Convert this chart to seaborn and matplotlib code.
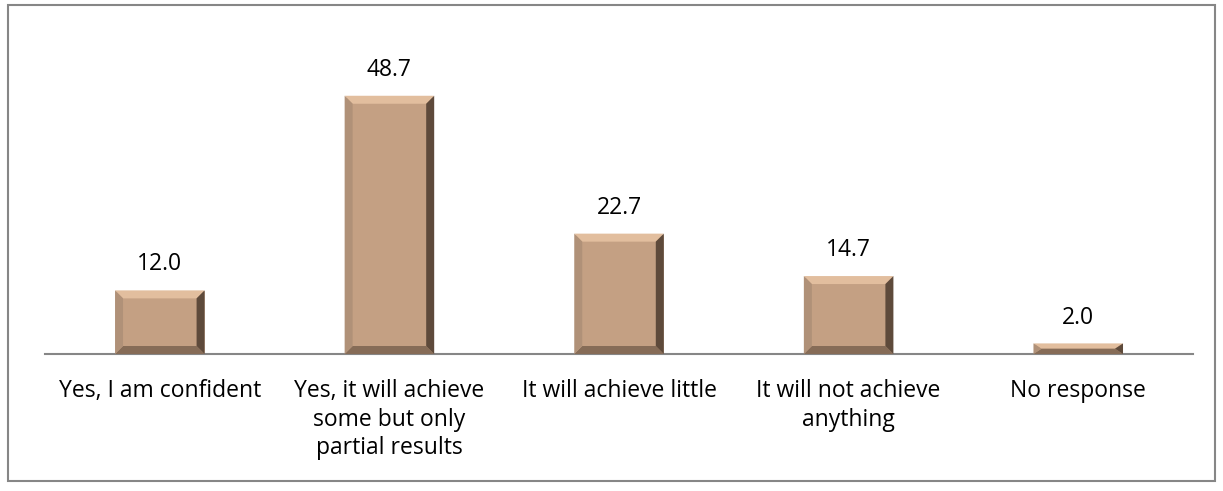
import matplotlib
matplotlib.use('Agg')
import matplotlib.pyplot as plt
from matplotlib.patches import Polygon, Rectangle
import seaborn as sns
import pandas as pd

categories = ['Yes, I am confident', 'Yes, it will achieve\nsome but only\npartial results',
              'It will achieve little', 'It will not achieve\nanything', 'No response']
values = [12.0, 48.7, 22.7, 14.7, 2.0]

df = pd.DataFrame({'category': categories, 'value': values})

sns.set_style('white')
plt.rcParams['font.family'] = ['Open Sans', 'DejaVu Sans']

fig = plt.figure(figsize=(12.23, 4.91), dpi=100)
ax = fig.add_axes([0.0368, 0.279, 0.9387, 0.648])

face = '#C4A083'
sns.barplot(data=df, x='category', y='value', color=face, width=0.39,
            saturation=1, ax=ax)
ax.set_xlim(-0.5, 4.5)
ax.set_ylim(0, 60)

# bevel edges (pixel width converted to data units)
fig.canvas.draw()
p0 = ax.transData.transform((0, 0))
p1 = ax.transData.transform((1, 1))
bw = 8
dx = bw / (p1[0] - p0[0])
dy = bw / (p1[1] - p0[1])
for bar in ax.patches:
    x0 = bar.get_x()
    w = bar.get_width()
    h = bar.get_height()
    x1 = x0 + w
    ddy = min(dy, h / 2)
    ddx = dx
    top = Polygon([(x0, h), (x1, h), (x1 - ddx, h - ddy), (x0 + ddx, h - ddy)],
                  closed=True, facecolor='#E2BE9E', edgecolor='none', zorder=3)
    bot = Polygon([(x0, 0), (x1, 0), (x1 - ddx, ddy), (x0 + ddx, ddy)],
                  closed=True, facecolor='#866C57', edgecolor='none', zorder=3)
    left = Polygon([(x0, 0), (x0, h), (x0 + ddx, h - ddy), (x0 + ddx, ddy)],
                   closed=True, facecolor='#B09178', edgecolor='none', zorder=3)
    right = Polygon([(x1, 0), (x1, h), (x1 - ddx, h - ddy), (x1 - ddx, ddy)],
                    closed=True, facecolor='#5E4A3B', edgecolor='none', zorder=3)
    for p in (top, bot, left, right):
        ax.add_patch(p)
    ax.annotate(f'{h:.1f}', (x0 + w / 2, h), xytext=(0, 10), textcoords='offset points',
                ha='center', va='bottom', fontsize=16.5, color='black')

sns.despine(ax=ax, left=True, top=True, right=True)
ax.spines['bottom'].set_color('#868686')
ax.spines['bottom'].set_linewidth(1.5)
ax.set_yticks([])
ax.set_xlabel('')
ax.set_ylabel('')
ax.tick_params(axis='x', length=0, pad=18, labelsize=16.5, labelcolor='black')
for lbl in ax.get_xticklabels():
    lbl.set_linespacing(1.25)

fig.patches.append(Rectangle((0.0065, 0.02), 0.987, 0.969, transform=fig.transFigure,
                             fill=False, edgecolor='#868686', linewidth=1.5))

fig.savefig('out.png', dpi=100)
